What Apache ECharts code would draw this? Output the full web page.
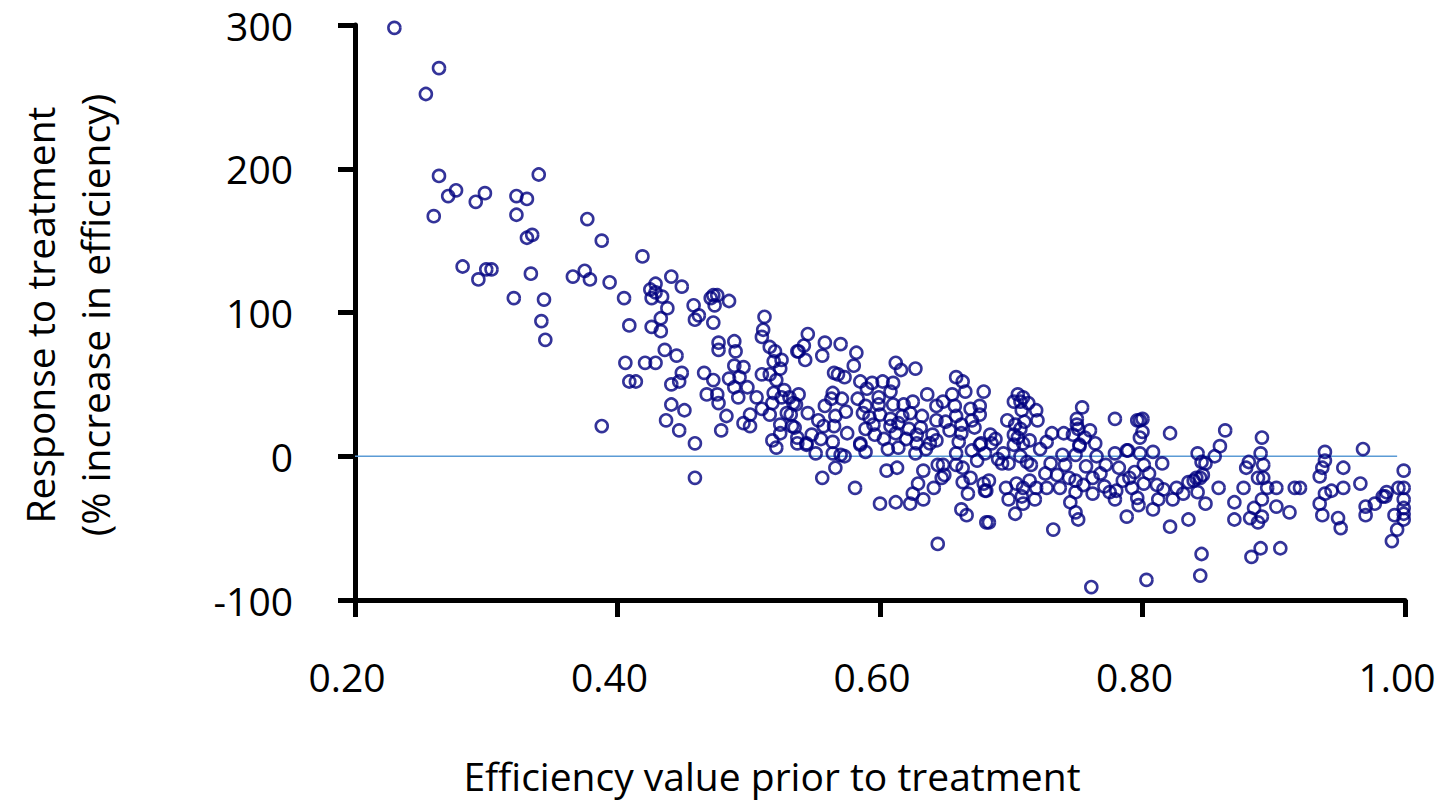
<!DOCTYPE html>
<html>
<head>
<meta charset="utf-8">
<title>Response to treatment vs efficiency</title>
<script src="https://cdn.jsdelivr.net/npm/echarts@6/dist/echarts.min.js"></script>
<style>
  html, body { margin: 0; padding: 0; background: #fff; }
  #chart { width: 1440px; height: 802px; }
</style>
</head>
<body>
<div id="chart"></div>
<script>
// efficiency before treatment (x) vs % response (y)
const lowEff = [
  [0.230, 298], [0.264, 270], [0.254, 252], [0.264, 195], [0.277, 185], [0.271, 181], [0.299, 183],
  [0.292, 177], [0.260, 167], [0.323, 181], [0.331, 179], [0.340, 196], [0.323, 168], [0.335, 154],
  [0.331, 152], [0.377, 165], [0.388, 150], [0.282, 132], [0.300, 130], [0.304, 130], [0.294, 123],
  [0.334, 127], [0.321, 110], [0.344, 109], [0.342, 94], [0.366, 125], [0.375, 129], [0.379, 123],
  [0.394, 121], [0.345, 81], [0.388, 21],
  [0.405, 110], [0.425, 116], [0.429, 114], [0.426, 110], [0.434, 111], [0.429, 120], [0.441, 125],
  [0.449, 118], [0.419, 139], [0.438, 103], [0.433, 96], [0.426, 90], [0.433, 87], [0.409, 91],
  [0.436, 74], [0.445, 70], [0.406, 65], [0.421, 65], [0.429, 65], [0.409, 52], [0.414, 52],
  [0.449, 58], [0.441, 50], [0.447, 52], [0.441, 36], [0.451, 32], [0.437, 25], [0.447, 18],
  [0.459, 9], [0.459, -15]
];

const midEff = [
  [0.458, 105], [0.462, 98], [0.459, 95], [0.473, 112], [0.471, 110], [0.476, 112], [0.474, 105],
  [0.485, 108], [0.473, 93], [0.477, 79], [0.477, 74], [0.489, 80], [0.490, 73], [0.466, 58],
  [0.473, 53], [0.468, 43], [0.476, 43], [0.477, 37], [0.483, 28], [0.479, 18], [0.489, 63],
  [0.496, 62], [0.485, 54], [0.493, 55], [0.489, 48], [0.499, 48], [0.492, 41], [0.506, 41],
  [0.501, 29], [0.496, 23], [0.501, 21], [0.512, 97], [0.511, 88], [0.510, 83], [0.516, 76],
  [0.520, 73], [0.519, 66], [0.525, 67], [0.510, 57], [0.516, 57], [0.524, 61], [0.521, 53],
  [0.537, 73], [0.519, 44], [0.525, 41], [0.518, 37], [0.510, 33], [0.516, 29], [0.529, 30],
  [0.534, 37], [0.524, 22], [0.524, 16], [0.533, 21], [0.518, 11], [0.521, 6], [0.537, 13],
  [0.545, 85], [0.542, 77], [0.538, 73], [0.543, 67], [0.558, 79], [0.570, 78], [0.556, 70],
  [0.582, 72], [0.580, 63], [0.565, 58], [0.568, 57], [0.573, 55], [0.585, 52], [0.590, 47],
  [0.594, 51], [0.602, 52], [0.612, 65], [0.616, 60], [0.627, 61], [0.610, 51], [0.608, 45],
  [0.599, 41], [0.538, 43], [0.536, 36], [0.564, 44], [0.563, 40], [0.571, 40], [0.558, 35],
  [0.589, 35], [0.599, 36], [0.610, 36], [0.618, 36], [0.625, 38], [0.636, 43], [0.643, 35],
  [0.648, 38], [0.658, 55], [0.663, 52], [0.655, 43], [0.679, 45], [0.657, 35], [0.669, 33],
  [0.676, 35], [0.532, 29], [0.574, 31], [0.566, 28], [0.592, 27], [0.600, 29], [0.608, 26],
  [0.623, 30], [0.632, 28], [0.614, 23], [0.643, 25], [0.650, 24], [0.658, 28], [0.662, 22],
  [0.670, 25], [0.676, 29], [0.535, 20], [0.557, 21], [0.565, 21], [0.589, 19], [0.608, 21],
  [0.622, 19], [0.628, 15], [0.575, 16], [0.596, 15], [0.612, 16], [0.662, 16], [0.544, 9],
  [0.564, 10], [0.585, 9], [0.614, 6], [0.643, 11], [0.677, 9], [0.551, 2], [0.564, 2],
  [0.589, 3], [0.627, 2], [0.537, 9], [0.544, 8], [0.570, 1], [0.573, 0], [0.585, 8],
  [0.628, 9], [0.670, 4], [0.680, 2], [0.638, 9], [0.676, 8], [0.658, 2], [0.674, -3],
  [0.566, -8], [0.556, -15], [0.581, -22], [0.605, -10], [0.613, -8], [0.600, -33], [0.612, -32],
  [0.623, -33], [0.633, -30], [0.625, -26], [0.629, -19], [0.633, -10], [0.641, -22], [0.644, -6],
  [0.648, -6], [0.647, -15], [0.649, -13], [0.658, -6], [0.663, -8], [0.669, -15], [0.663, -18],
  [0.667, -26], [0.679, -19], [0.681, -24], [0.662, -37], [0.666, -41], [0.681, -46], [0.644, -61],
  [0.684, 15], [0.685, 9], [0.683, -17], [0.680, -24], [0.683, -46], [0.694, 2], [0.693, -5],
  [0.698, -5], [0.696, -22], [0.698, -30],
  [0.527, 46], [0.531, 41], [0.545, 30], [0.553, 25], [0.548, 15], [0.555, 12], [0.583, 40],
  [0.587, 30], [0.595, 22], [0.603, 12], [0.606, 5], [0.617, 28], [0.620, 12], [0.631, 20],
  [0.635, 5], [0.640, 15], [0.653, 18], [0.660, 10], [0.665, 45], [0.672, 20], [0.688, 12],
  [0.690, -2]
];

const highEff = [
  [0.705, 43], [0.709, 41], [0.702, 38], [0.707, 38], [0.713, 37], [0.719, 32], [0.708, 32],
  [0.697, 25], [0.720, 25], [0.703, 22], [0.710, 24], [0.707, 19], [0.702, 15], [0.714, 11],
  [0.705, 13], [0.727, 10], [0.731, 16], [0.740, 16], [0.754, 34], [0.750, 26], [0.750, 22],
  [0.751, 19], [0.747, 15], [0.760, 18], [0.756, 13], [0.764, 9], [0.752, 7], [0.779, 26],
  [0.796, 25], [0.800, 26], [0.798, 25], [0.800, 17], [0.798, 13], [0.788, 4], [0.808, 3],
  [0.821, 16], [0.779, 2],
  [0.707, 0], [0.715, -6], [0.702, 8], [0.709, 9], [0.703, -40], [0.704, -19], [0.709, -22],
  [0.708, -28], [0.709, -33], [0.718, -30], [0.719, -22], [0.714, -17], [0.726, -12], [0.727, -22],
  [0.735, -13], [0.737, -22], [0.732, -51], [0.741, -6], [0.739, 1], [0.749, 1], [0.752, 8],
  [0.757, -7], [0.749, -17], [0.749, -25], [0.745, -32], [0.749, -39], [0.751, -44], [0.762, -15],
  [0.762, -26], [0.771, -21], [0.772, -6], [0.779, -30], [0.780, -24], [0.785, -17], [0.792, -22],
  [0.794, -11], [0.801, -6], [0.801, -19], [0.796, -29], [0.797, -34], [0.788, -42], [0.808, -37],
  [0.815, -5], [0.811, -20], [0.816, -23], [0.823, -30], [0.821, -49], [0.761, -91], [0.803, -86],
  [0.789, 4], [0.798, 2],
  [0.712, -4], [0.722, 5], [0.730, -5], [0.744, -15], [0.755, -20], [0.765, 0], [0.768, -12],
  [0.775, -25], [0.782, -8], [0.790, -15], [0.805, -12], [0.812, -30], [0.826, -22],
  [0.831, -26], [0.835, -18], [0.835, -44], [0.839, -17], [0.842, 2], [0.845, -4], [0.841, -15],
  [0.844, -15], [0.846, -13], [0.842, -25], [0.848, -33], [0.848, -5], [0.855, 0], [0.859, 7],
  [0.863, 18], [0.858, -22], [0.845, -68], [0.844, -83], [0.870, -32], [0.870, -44], [0.877, -22],
  [0.881, -4], [0.879, -8], [0.891, 13], [0.890, 2], [0.892, -6], [0.888, -15], [0.892, -15],
  [0.895, -22], [0.891, -30], [0.885, -36], [0.882, -43], [0.891, -42], [0.888, -46], [0.890, -64],
  [0.883, -70], [0.902, -22], [0.902, -35], [0.905, -64], [0.912, -39], [0.916, -22], [0.920, -22],
  [0.939, 3], [0.939, -3], [0.937, -8], [0.935, -14], [0.939, -26], [0.944, -24], [0.935, -33],
  [0.937, -41], [0.953, -8], [0.953, -22], [0.949, -43], [0.951, -50], [0.968, 5], [0.966, -19],
  [0.970, -35], [0.970, -41], [0.977, -33], [0.983, -28], [0.986, -25], [0.985, -28], [0.992, -41],
  [0.994, -51], [0.990, -59], [0.999, -10], [0.999, -22], [0.999, -30], [0.999, -36], [0.999, -40],
  [0.999, -44], [0.995, -22]
];

// zero reference line
const zeroLine = [[0.20, 0], [0.994, 0]];

const xTitle = 'Efficiency value prior to treatment';
const yTitle = 'Response to treatment\n(% increase in efficiency)';

const FONT = '"Open Sans", "Liberation Sans", sans-serif';
const navy = '#000080';

let myChart = echarts.init(document.getElementById('chart'), null, { renderer: 'svg' });

const dotSeries = (name, data) => ({
  name: name,
  type: 'scatter',
  data: data,
  symbol: 'circle',
  symbolSize: 12,
  itemStyle: {
    color: 'rgba(0,0,0,0)',
    borderColor: navy,
    borderWidth: 2.6
  },
  z: 3
});

var option = {
  animation: false,
  backgroundColor: '#fff',
  grid: {
    left: 355,
    right: 35,
    top: 25,
    bottom: 202,
    containLabel: false
  },
  xAxis: {
    type: 'value',
    min: 0.2,
    max: 1.0,
    interval: 0.2,
    axisLine: { show: true, onZero: false, lineStyle: { color: '#000', width: 5 } },
    axisTick: { show: true, inside: false, length: 17, lineStyle: { color: '#000', width: 5 } },
    splitLine: { show: false },
    axisLabel: {
      color: '#000',
      fontSize: 39,
      fontFamily: FONT,
      margin: 57,
      padding: [0, 16, 0, 0],
      formatter: v => v.toFixed(2)
    }
  },
  yAxis: {
    type: 'value',
    min: -100,
    max: 300,
    interval: 100,
    axisLine: { show: true, onZero: false, lineStyle: { color: '#000', width: 5 } },
    axisTick: { show: true, inside: false, length: 17, lineStyle: { color: '#000', width: 5 } },
    splitLine: { show: false },
    axisLabel: {
      color: '#000',
      fontSize: 39,
      fontFamily: FONT,
      margin: 62
    }
  },
  graphic: [
    {
      type: 'text',
      x: 772,
      y: 775,
      style: {
        text: xTitle,
        fill: '#000',
        font: '39px ' + FONT,
        textAlign: 'center',
        textVerticalAlign: 'middle'
      }
    },
    {
      type: 'text',
      x: 67,
      y: 315,
      rotation: Math.PI / 2,
      style: {
        text: yTitle,
        fill: '#000',
        font: '39px ' + FONT,
        lineHeight: 55,
        textAlign: 'center',
        textVerticalAlign: 'middle'
      }
    }
  ],
  series: [
    {
      name: 'zero',
      type: 'line',
      data: zeroLine,
      symbol: 'none',
      silent: true,
      lineStyle: { color: '#5b9bd5', width: 1.5 },
      z: 2
    },
    dotSeries('low', lowEff),
    dotSeries('mid', midEff),
    dotSeries('high', highEff)
  ]
};

myChart.setOption(option);
</script>
</body>
</html>
